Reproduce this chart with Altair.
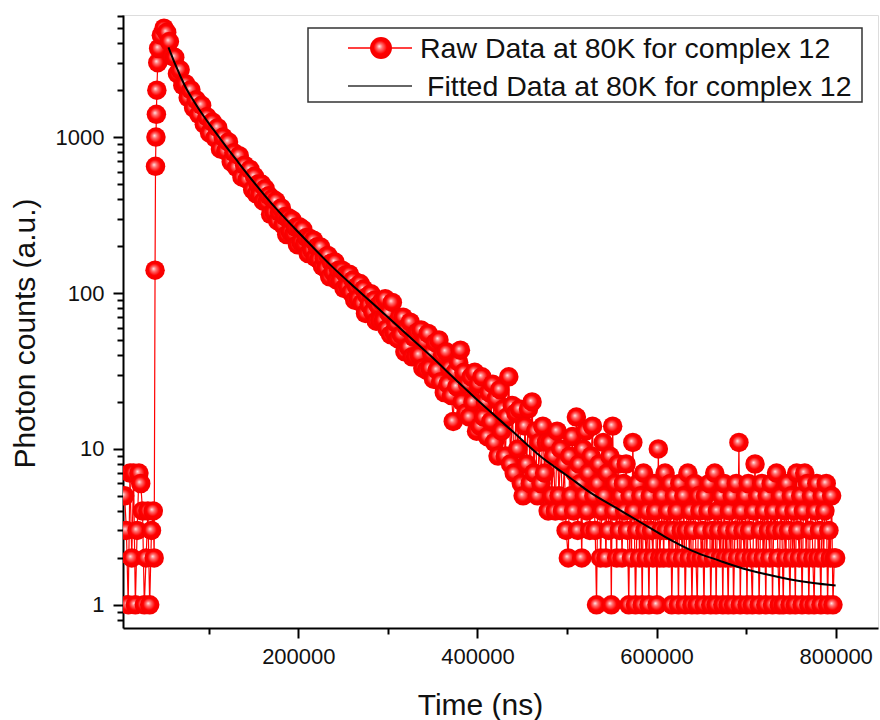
import altair as alt
import pandas as pd

# ---------------- data ----------------
pre_time = list(range(6000, 40000, 2000))
pre_counts = [5, 3, 1, 7, 2, 7, 1, 3, 7, 6, 4, 1, 2, 4, 1, 3, 4]

rise_time = [39000, 40000, 40500, 41000, 41500, 42000, 43000]
rise_counts = [2, 140, 650, 1000, 1400, 2000, 3000]

early_time = list(range(44000, 150000, 3000))
early_counts = [
    3700, 4500, 5000, 4700, 4100, 3300, 3250, 2550, 2700, 2150,
    2200, 1790, 2010, 1540, 1735, 1400, 1600, 1210, 1350, 1060,
    1250, 990, 1150, 840, 1000, 815, 930, 695, 795, 640,
    760, 555, 660, 535, 620, 460,
]

mid_time = list(range(151000, 500000, 2000))
mid_counts = [
    560, 433, 500, 424, 500,   388, 467, 383, 421, 320,
    403, 330, 389, 290, 329,   351, 273, 309, 237, 304,
    247, 294, 239, 264, 204,   266, 212, 256, 206, 227,
    179, 224, 189, 218, 169,   198, 164, 197, 148, 167,
    144, 174, 127, 156, 136,   158, 121, 140, 120, 140,
    107, 131, 110, 132, 101,   121, 90, 110, 92, 115,
    86, 106, 74, 95, 84,       99, 76, 90, 66, 83,
    67, 88, 67, 92, 59,        74, 54, 87, 56, 64,
    51, 70, 54, 70, 42,        60, 45, 65, 39, 52,
    39, 56, 40, 58, 33,        49, 32, 55, 33, 41,
    28, 48, 32, 50, 27,        40, 23, 42, 26, 33,
    22, 15, 31, 25, 36,        43, 20, 31, 17, 26,
    16, 29, 20, 31, 13,        26, 14, 29, 16, 20,
    12, 23, 15, 26, 11,        21, 9, 24, 13, 18,
    9, 16, 29, 8, 19,          7, 17, 10, 18, 6,
    5, 14, 8, 18, 6,           20, 7, 13, 5, 11,
    6, 14, 7, 11, 4,           11, 5, 9, 4, 13,
    5, 10, 4, 8, 3,
]

tail_time = list(range(501500, 800001, 1500))
tail_counts = [
    2, 9, 5, 12, 4, 7, 16, 3, 8, 6, 2, 10, 5, 13, 4, 7, 3, 9, 14, 5,
    3, 1, 6, 8, 2, 4, 11, 5, 2, 7, 3, 9, 1, 14, 4, 6, 2, 8, 3, 5,
    2, 6, 4, 8, 3, 1, 5, 2, 11, 4, 1, 3, 6, 2, 5, 1, 7, 3, 2, 4,
    1, 5, 3, 2, 6, 4, 1, 10, 2, 3, 5, 2, 7, 3, 4, 2, 6, 1, 3, 5,
    2, 4, 1, 6, 3, 2, 5, 1, 3, 7, 2, 4, 1, 3, 6, 2, 1, 5, 4, 2,
    3, 1, 5, 2, 4, 6, 1, 3, 2, 7, 1, 4, 3, 2, 5, 1, 6, 2, 3, 1,
    4, 2, 5, 1, 3, 6, 2, 11, 1, 4, 3, 2, 5, 1, 6, 3, 2, 1, 4, 8,
    2, 5, 1, 3, 6, 2, 4, 1, 5, 3, 2, 6, 1, 4, 3, 7, 2, 1, 5, 3,
    1, 4, 2, 6, 3, 1, 5, 2, 4, 1, 7, 3, 2, 5, 1, 4, 7, 2, 6, 1,
    3, 5, 2, 1, 4, 6, 2, 3, 1, 5, 2, 4, 6, 1, 3, 2, 5, 1, 2, 2,
]

fit_time = [55000, 60000, 65000, 70000, 75000, 82000, 90000, 100000, 109000,
            120000, 130000, 150000, 170000, 195000, 215000, 236000, 265000,
            292000, 320000, 348000, 376000, 404000, 437000, 471000, 500000,
            527000, 555000, 583000, 610000, 640000, 670000, 692000,
            720000, 748000, 775000, 800000]
fit_counts = [3760, 3180, 2720, 2340, 2040, 1750, 1480, 1225, 1045,
              860, 724, 516, 376, 263, 200, 151, 106,
              77, 55, 39.4, 27.7, 19.6, 13.3, 8.9, 6.75,
              5.2, 4.18, 3.36, 2.72, 2.22, 1.92, 1.74,
              1.58, 1.46, 1.38, 1.33]

legend_labels = ["Raw Data at 80K for complex 12",
                 "Fitted Data at 80K for complex 12"]

x_title = "Time (ns)"
y_title = "Photon counts (a.u.)"

# ---------------- tables ----------------
raw = pd.DataFrame({
    "time": pre_time + rise_time + early_time + mid_time + tail_time,
    "counts": pre_counts + rise_counts + early_counts + mid_counts + tail_counts,
})
fit = pd.DataFrame({"time": fit_time, "counts": fit_counts})

FONT = "Liberation Sans"
TXT = "#111111"

x_ticks = [100000 * i for i in range(1, 9)]
y_ticks = [0.8, 0.9] + [m * 10 ** e for e in range(0, 4) for m in range(1, 10)]
y_ticks = [v for v in y_ticks if v <= 6000]

x_scale = alt.Scale(domain=[4200, 847300], nice=False, zero=False)
y_scale = alt.Scale(type="log", domain=[0.71, 6070], nice=False)

x_axis = alt.Axis(
    title=x_title, values=x_ticks, grid=False,
    labelExpr="datum.value % 200000 == 0 ? format(datum.value, 'd') : ''",
    tickSize={"condition": {"test": "datum.value % 200000 == 0", "value": 10}, "value": 6},
    tickWidth=2, tickColor="#000", domainColor="#000", domainWidth=2,
    labelFont=FONT, labelFontSize=22, labelColor=TXT, labelPadding=8,
    labelOverlap=False, labelFlush=False,
    titleFont=FONT, titleFontSize=30, titleFontWeight="normal", titleColor=TXT,
    titleX=357, titleAlign="center", titleY=86, titleBaseline="alphabetic",
)
major_y = "datum.value == 1 || datum.value == 10 || datum.value == 100 || datum.value == 1000"
y_axis = alt.Axis(
    title=y_title, values=y_ticks, grid=False,
    labelExpr="(" + major_y + ") ? format(datum.value, 'd') : ''",
    tickSize={"condition": {"test": major_y, "value": 10}, "value": 6},
    tickWidth=2, tickColor="#000", domainColor="#000", domainWidth=2,
    labelFont=FONT, labelFontSize=22, labelColor=TXT, labelPadding=9,
    labelOverlap=False, labelFlush=False, labelBaseline="middle",
    titleFont=FONT, titleFontSize=30, titleFontWeight="normal", titleColor=TXT,
    titleX=-89, titleY=318, titleAlign="center", titleBaseline="alphabetic", titleAngle=-90,
)

ball = alt.RadialGradient(
    gradient="radial",
    stops=[
        alt.GradientStop(offset=0, color="#ffe8e8"),
        alt.GradientStop(offset=0.25, color="#ff7070"),
        alt.GradientStop(offset=0.6, color="#ff0000"),
        alt.GradientStop(offset=1, color="#f40000"),
    ],
    x1=0.42, y1=0.42, r1=0, x2=0.5, y2=0.5, r2=0.5,
)

base = alt.Chart(raw).encode(
    x=alt.X("time:Q", scale=x_scale, axis=x_axis),
    y=alt.Y("counts:Q", scale=y_scale, axis=y_axis),
)
raw_line = base.mark_line(color="#ff0000", strokeWidth=1.2, clip=True)
raw_pts = base.mark_circle(size=380, fill=ball, opacity=1, strokeWidth=0, clip=True)

fit_line = alt.Chart(fit).mark_line(
    color="#000000", strokeWidth=2, interpolate="monotone", clip=True
).encode(
    x=alt.X("time:Q", scale=x_scale),
    y=alt.Y("counts:Q", scale=y_scale),
)

# ---------------- legend (box, samples, labels) ----------------
one = pd.DataFrame({"k": [0]})
leg_box = alt.Chart(one).mark_rect(
    fill="white", stroke="#333333", strokeWidth=1.5
).encode(x=alt.value(185), x2=alt.value(739), y=alt.value(13), y2=alt.value(87))
leg_raw_line = alt.Chart(one).mark_rule(color="#ff0000", strokeWidth=1.5).encode(
    x=alt.value(225), x2=alt.value(289), y=alt.value(33))
leg_raw_pt = alt.Chart(one).mark_circle(size=480, fill=ball, opacity=1, strokeWidth=0).encode(
    x=alt.value(258), y=alt.value(33))
leg_fit_line = alt.Chart(one).mark_rule(color="#333333", strokeWidth=1.5).encode(
    x=alt.value(225), x2=alt.value(289), y=alt.value(71))
leg_raw_txt = alt.Chart(one).mark_text(
    align="left", baseline="middle", font=FONT, fontSize=28.5, color=TXT
).encode(x=alt.value(297), y=alt.value(34), text=alt.value(legend_labels[0]))
leg_fit_txt = alt.Chart(one).mark_text(
    align="left", baseline="middle", font=FONT, fontSize=28.5, color=TXT
).encode(x=alt.value(304), y=alt.value(72), text=alt.value(legend_labels[1]))

chart = alt.layer(
    raw_line, raw_pts, fit_line,
    leg_box, leg_raw_line, leg_raw_pt, leg_fit_line, leg_raw_txt, leg_fit_txt,
).properties(
    width=755, height=613,
    autosize=alt.AutoSizeParams(type="none"),
    padding={"left": 123, "top": 15, "right": 2, "bottom": 92},
).configure_view(
    stroke="#000000", strokeWidth=2
).configure(background="white")

chart.save("out.html", embed_options={"renderer": "svg", "actions": False})
